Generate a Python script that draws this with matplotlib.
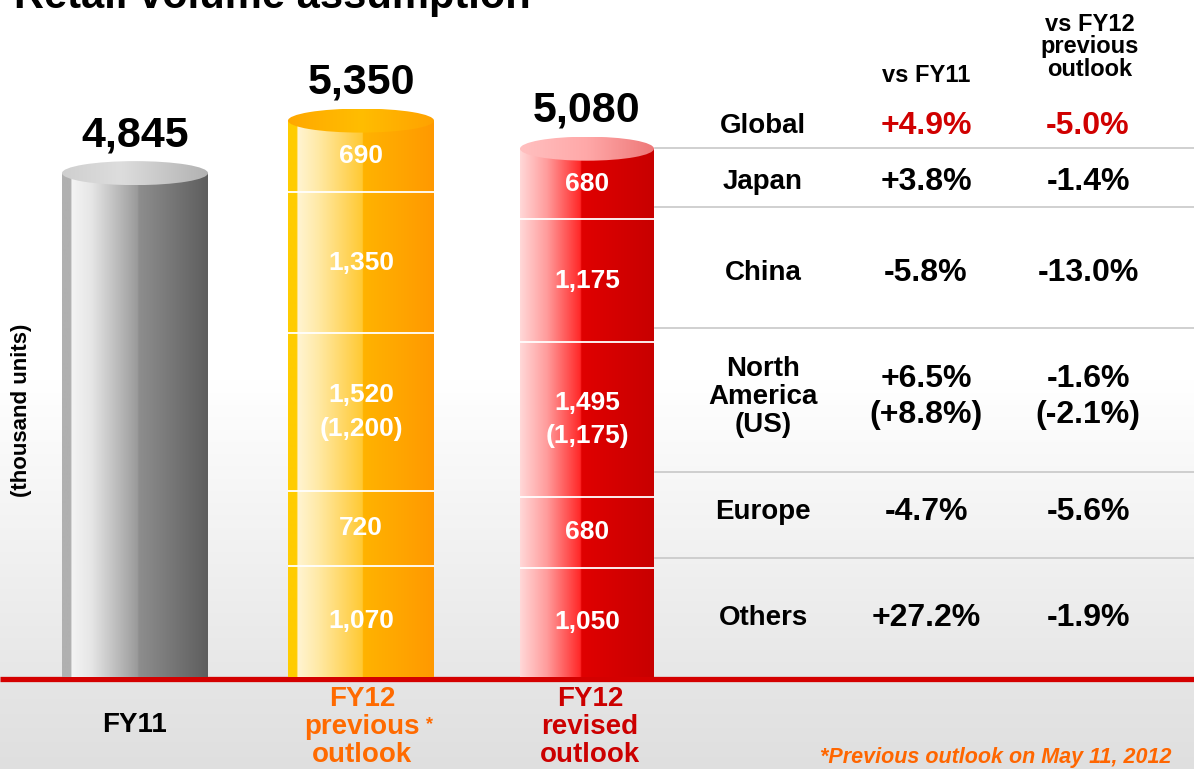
import numpy as np
import matplotlib
matplotlib.use("Agg")
import matplotlib.pyplot as plt
from matplotlib.colors import LinearSegmentedColormap
from matplotlib.patches import Ellipse

plt.rcParams['font.family'] = ['Liberation Sans', 'DejaVu Sans']

# ---------------- data ----------------
categories = ["FY11", "FY12\nprevious\noutlook", "FY12\nrevised\noutlook"]
totals = [4845, 5350, 5080]
segment_regions = ["Others", "Europe", "North America", "China", "Japan"]   # bottom -> top
prev_outlook = [1070, 720, 1520, 1350, 690]
prev_outlook_us = 1200
revised_outlook = [1050, 680, 1495, 1175, 680]
revised_outlook_us = 1175

table_rows = ["Global", "Japan", "China", "North\nAmerica\n(US)", "Europe", "Others"]
vs_fy11 = ["+4.9%", "+3.8%", "-5.8%", "+6.5%\n(+8.8%)", "-4.7%", "+27.2%"]
vs_prev = ["-5.0%", "-1.4%", "-13.0%", "-1.6%\n(-2.1%)", "-5.6%", "-1.9%"]
col_headers = ["vs FY11", "vs FY12\nprevious\noutlook"]

# ---------------- layout ----------------
W, H = 1194, 769
BASE = 677          # pixel row of the baseline
PXU = 0.104         # pixels per thousand units
fig = plt.figure(figsize=(W / 100, H / 100), dpi=100)

# background (pixel coordinates)
bg = fig.add_axes([0, 0, 1, 1])
bg.set_xlim(0, W)
bg.set_ylim(H, 0)
bg.axis('off')
ys = np.arange(H)
bgcol = np.ones((H, 1, 3))
for i, y in enumerate(ys):
    if y < 380:
        v = 1.0
    elif y < BASE:
        v = 1.0 - (y - 380) / (BASE - 380) * (1 - 0.905)
    else:
        v = 0.90 - (y - BASE) / (H - BASE) * 0.025
    bgcol[i, 0, :] = v
bg.imshow(bgcol, extent=(0, W, H, 0), aspect='auto', interpolation='bilinear', zorder=0)
bg.plot([0, W], [BASE + 1.5, BASE + 1.5], color='#d40000', lw=3.8, zorder=5, solid_capstyle='butt')

# ---------------- bars ----------------
ax = fig.add_axes([0, (H - BASE) / H, 1, BASE / H])
ax.patch.set_visible(False)
ax.axis('off')
step = 226.0
xc = [0, 1, 2]
widths = [146 / step, 146 / step, 134 / step]

body_cmaps = [
    [(0, '#b0b0b0'), (0.06, '#b0b0b0'), (0.065, '#f4f4f4'), (0.2, '#e6e6e6'),
     (0.52, '#9a9a9a'), (0.525, '#8e8e8e'), (1.0, '#5e5e5e')],
    [(0, '#ffcc00'), (0.06, '#ffcc00'), (0.065, '#fff4d2'), (0.2, '#ffeaa8'),
     (0.51, '#ffc933'), (0.515, '#ffb300'), (1.0, '#ff9900')],
    [(0, '#ffd8d8'), (0.2, '#ff9c9c'), (0.45, '#ff2828'), (0.46, '#e00000'), (1.0, '#c80000')],
]
top_cmaps = [
    [(0, '#cfcfcf'), (0.4, '#dddddd'), (1.0, '#b2b2b2')],
    [(0, '#ffa800'), (0.5, '#ffbd00'), (1.0, '#ffa200')],
    [(0, '#ffc0c0'), (0.5, '#ffa8a8'), (1.0, '#ee7878')],
]
EH = 24 / PXU
grad = np.linspace(0, 1, 256)[None, :]


def grad_fill(patch, stops, extent, z):
    cmap = LinearSegmentedColormap.from_list('g', stops)
    im = ax.imshow(grad, cmap=cmap, extent=extent, aspect='auto',
                   interpolation='bilinear', zorder=z)
    im.set_clip_path(patch)


stacks = [None, prev_outlook, revised_outlook]
us_vals = [None, prev_outlook_us, revised_outlook_us]

for i, x in enumerate(xc):
    w = widths[i]
    tot = totals[i]
    body = ax.bar(x, tot, width=w, color='none', edgecolor='none', zorder=3)[0]
    grad_fill(body, body_cmaps[i], (x - w / 2, x + w / 2, 0, tot), 3)
    ell = Ellipse((x, tot), w, EH, facecolor='none', edgecolor='none', zorder=4)
    ax.add_patch(ell)
    grad_fill(ell, top_cmaps[i], (x - w / 2, x + w / 2, tot - EH / 2, tot + EH / 2), 4)
    ax.annotate(f"{tot:,}", xy=(x, tot), xytext=(0, 13), textcoords='offset points',
                ha='center', va='bottom', fontsize=31, fontweight='bold', color='black')
    seg = stacks[i]
    if seg is not None:
        cum = np.cumsum(seg)
        bottoms = cum - np.array(seg)
        ax.hlines(cum[:-1], x - w / 2, x + w / 2, colors='white', lw=1.3, zorder=3.5)
        for j, (b, v) in enumerate(zip(bottoms, seg)):
            mid = b + v / 2
            if segment_regions[j] == "North America":
                lab = f"{v:,}\n({us_vals[i]:,})"
            else:
                lab = f"{v:,}"
            ax.text(x, mid, lab, ha='center', va='center', color='white',
                    fontsize=19, fontweight='bold', linespacing=1.5, zorder=6)

ax.set_xlim(-135 / step, (W - 135) / step)
ax.set_ylim(0, BASE / PXU)

# ---------------- texts ----------------
bg.text(14, 8, "Retail volume assumption", ha='left', va='baseline',
        fontsize=30, fontweight='bold', color='black', zorder=6)
bg.text(22, 410, "(thousand units)", rotation=90, ha='center', va='center',
        fontsize=16, fontweight='bold', color='black', zorder=6)

cat_colors = ['black', '#ff6a00', '#cc0000']
cat_x = [135, 362, 590]
for lab, cx, col in zip(categories, cat_x, cat_colors):
    bg.text(cx, 727 if '\n' in lab else 725, lab, ha='center', va='center', fontsize=20,
            fontweight='bold', color=col, linespacing=1.1, zorder=6)
bg.text(430, 725, "*", ha='center', va='center', fontsize=13, fontweight='bold',
        color='#ff6a00', zorder=6)
bg.text(1172, 757, "*Previous outlook on May 11, 2012", ha='right', va='center',
        fontsize=15.5, fontweight='bold', style='italic', color='#ff6600', zorder=6)

# table
col_x = [763, 926, 1088]
row_y = [126, 182, 273, 397, 512, 618]
bg.text(col_x[1], 75, col_headers[0], ha='center', va='center', fontsize=17,
        fontweight='bold', zorder=6)
bg.text(col_x[2] + 2, 47, col_headers[1], ha='center', va='center', fontsize=17,
        fontweight='bold', linespacing=0.98, zorder=6)
for k, (r, a, b, y) in enumerate(zip(table_rows, vs_fy11, vs_prev, row_y)):
    pc = '#d00000' if k == 0 else 'black'
    bg.text(col_x[0], y, r, ha='center', va='center', fontsize=20, fontweight='bold',
            linespacing=1.1, zorder=6)
    bg.text(col_x[1], y, a, ha='center', va='center', fontsize=23, fontweight='bold',
            color=pc, linespacing=1.3, zorder=6)
    bg.text(col_x[2], y, b, ha='center', va='center', fontsize=23, fontweight='bold',
            color=pc, linespacing=1.3, zorder=6)

for y in [148, 207, 328, 472, 558]:
    bg.plot([655, W], [y, y], color='#c8c8c8', lw=1.2, zorder=2)

fig.savefig("out.png", dpi=100)
